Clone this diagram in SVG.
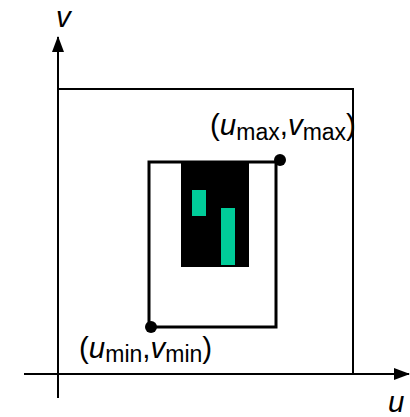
<svg xmlns="http://www.w3.org/2000/svg" width="410" height="417" viewBox="0 0 410 417">
<defs>
<style>
.ax{stroke:#000;stroke-width:2;fill:none}
.lbl{font-family:"Liberation Sans",Arial,sans-serif;font-size:29.5px;fill:#000}
.it{font-style:italic}
.sub{font-size:23px}
.grn{fill:#00CC99}
</style>
<marker id="arr" viewBox="0 0 16 12" refX="15" refY="6" markerWidth="16" markerHeight="12" markerUnits="userSpaceOnUse" orient="auto">
<path d="M0,0 L16,6 L0,12 Z" fill="#000"/>
</marker>
</defs>
<rect width="410" height="417" fill="#fff"/>
<g id="connectors">
<line class="ax" x1="58" y1="398" x2="58" y2="37" marker-end="url(#arr)"/>
<line class="ax" x1="24" y1="374" x2="409" y2="374" marker-end="url(#arr)"/>
</g>
<g id="outer">
<rect x="58" y="89" width="295" height="285" fill="none" stroke="#000" stroke-width="2"/>
</g>
<g id="inner">
<rect x="149" y="162" width="127" height="165" fill="none" stroke="#000" stroke-width="3"/>
<rect x="181" y="161" width="68" height="106" fill="#000"/>
<rect class="grn" x="192" y="190" width="14" height="26"/>
<rect class="grn" x="221" y="208" width="14" height="57"/>
<circle cx="280" cy="160" r="6" fill="#000"/>
<circle cx="151" cy="327" r="6" fill="#000"/>
</g>
<g id="labels">
<text class="lbl" x="56" y="27"><tspan class="it">v</tspan></text>
<text class="lbl" x="388" y="412"><tspan class="it">u</tspan></text>
<text class="lbl" x="210" y="135">(<tspan class="it">u</tspan><tspan class="sub" dy="5">max</tspan><tspan dy="-5">,</tspan><tspan class="it">v</tspan><tspan class="sub" dy="5">max</tspan><tspan dy="-5">)</tspan></text>
<text class="lbl" x="79" y="358">(<tspan class="it">u</tspan><tspan class="sub" dy="4">min</tspan><tspan dy="-4">,</tspan><tspan class="it">v</tspan><tspan class="sub" dy="4">min</tspan><tspan dy="-4">)</tspan></text>
</g>
</svg>
